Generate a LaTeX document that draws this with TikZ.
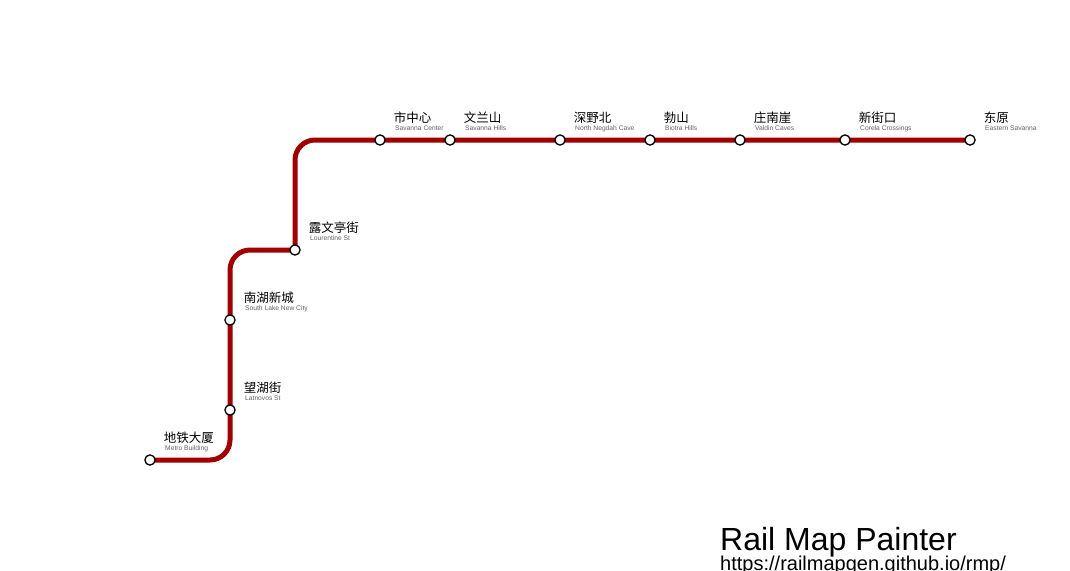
\documentclass[tikz,border=0pt]{standalone}
\usepackage{fontspec}
\usetikzlibrary{backgrounds}
\setmainfont{Liberation Sans}
\newfontfamily\cjk{Noto Sans CJK SC}
\definecolor{railred}{HTML}{A00000}
\tikzset{
  stn/.style={circle,draw=black,fill=white,line width=1.3pt,minimum size=10.2pt,inner sep=0pt},
  route/.style={draw=railred,line width=5pt,rounded corners=20pt},
  zh/.style={anchor=base west,inner sep=0pt,font=\cjk\fontsize{12.5}{12.5}\selectfont,text=black},
  en/.style={anchor=base west,inner sep=0pt,font=\fontsize{6.7}{6.7}\selectfont,text=black!62},
}
\begin{document}
\begin{tikzpicture}[x=1pt,y=-1pt]
\useasboundingbox (0,0) rectangle (1070,570);
\coordinate (c1) at (230,460);
\coordinate (c2) at (230,250);
\coordinate (c3) at (295,140);
\foreach \n/\x/\y in {s1/150/460,s2/230/410,s3/230/320,s4/295/250,s5/380/140,s6/450/140,s7/560/140,s8/650/140,s9/740/140,s10/845/140,s11/970/140}
  \node[stn] (\n) at (\x,\y) {};
\begin{scope}[on background layer]
\fill[white] (0,0) rectangle (1070,570);
\draw[route] (s1.center) -- (c1) -- (c2) -- (s4.center);
\draw[route] (s4.center) -- (c3) -- (s11.center);
\end{scope}
\node[zh] (z1) at (163.7,442) {地铁大厦};
\node[en] (e1) at (165,450) {Metro Building};
\node[zh] (z2) at (243.7,392) {望湖街};
\node[en] (e2) at (245,400) {Latnovos St};
\node[zh] (z3) at (243.7,302) {南湖新城};
\node[en] (e3) at (245,310) {South Lake New City};
\node[zh] (z4) at (308.7,232.5) {露文亭街};
\node[en] (e4) at (310,240) {Lourentine St};
\node[zh] (z5) at (393.7,122) {市中心};
\node[en] (e5) at (395,130) {Savanna Center};
\node[zh] (z6) at (463.7,122) {文兰山};
\node[en] (e6) at (465,130) {Savanna Hills};
\node[zh] (z7) at (573.7,122) {深野北};
\node[en] (e7) at (575,130) {North Negdah Cave};
\node[zh] (z8) at (663.7,122) {勃山};
\node[en] (e8) at (665,130) {Biotra Hills};
\node[zh] (z9) at (753.7,122) {庄南崖};
\node[en] (e9) at (755,130) {Valdin Caves};
\node[zh] (z10) at (858.7,122) {新街口};
\node[en] (e10) at (860,130) {Corela Crossings};
\node[zh] (z11) at (983.7,122) {东原};
\node[en] (e11) at (985,130) {Eastern Savanna};
\node[anchor=base west,inner sep=0pt,font=\fontsize{32}{32}\selectfont] (title) at (720,550) {Rail Map Painter};
\node[anchor=base west,inner sep=0pt,font=\fontsize{20}{20}\selectfont] (url) at (720,570) {https://railmapgen.github.io/rmp/};
\end{tikzpicture}
\end{document}
